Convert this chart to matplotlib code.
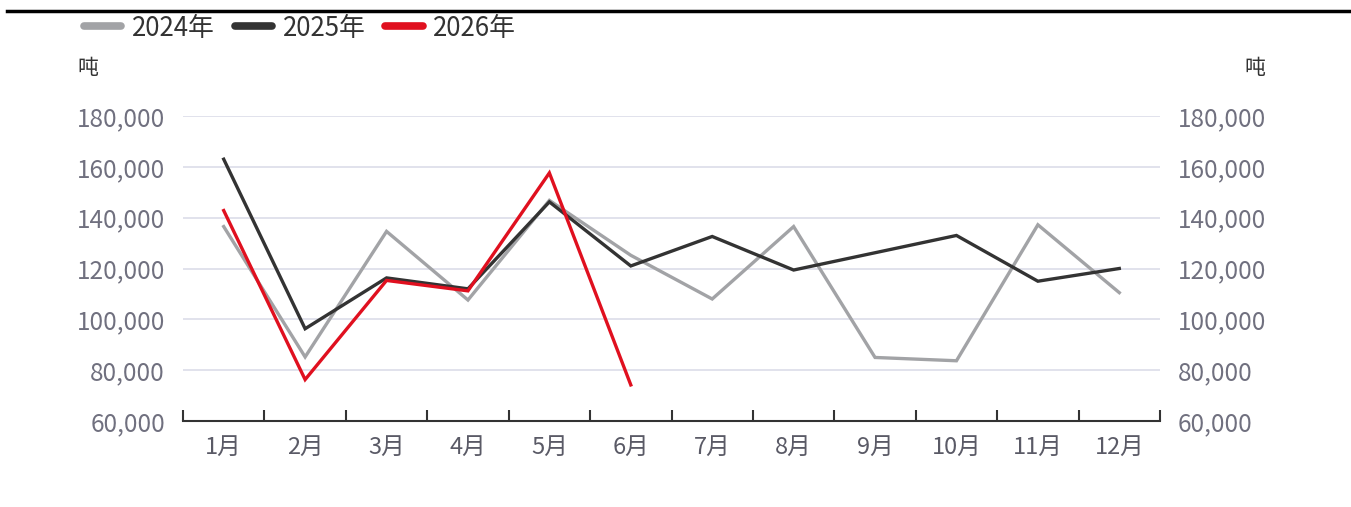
import numpy as np
import matplotlib.pyplot as plt
from matplotlib.lines import Line2D
from matplotlib.ticker import FuncFormatter

plt.rcParams['font.family'] = ['Noto Sans CJK SC', 'DejaVu Sans']

months = ['1月', '2月', '3月', '4月', '5月', '6月', '7月', '8月', '9月', '10月', '11月', '12月']
y2024 = [136500, 85200, 134600, 107600, 146800, 125200, 108000, 136500, 85000, 83700, 137200, 110500]
y2025 = [163000, 96300, 116300, 112000, 146200, 121000, 132600, 119400, 126200, 133000, 115000, 120000]
y2026 = [142800, 76300, 115300, 111200, 157600, 74200]

c2024 = '#a2a3a6'
c2025 = '#333333'
c2026 = '#e0101f'
tick_color = '#70707f'

fig = plt.figure(figsize=(13.51, 5.07), dpi=100)
ax = fig.add_axes([183/1351, 86/507, 977/1351, 305/507])

x = np.arange(len(months))
ax.plot(x, y2024, color=c2024, lw=2.4, label='2024年', solid_joinstyle='miter')
ax.plot(x, y2025, color=c2025, lw=2.4, label='2025年', solid_joinstyle='miter')
ax.plot(x[:len(y2026)], y2026, color=c2026, lw=2.4, label='2026年', solid_joinstyle='miter')

ax.set_xlim(-0.5, 11.5)
ax.set_ylim(60000, 180000)
ax.set_yticks(np.arange(60000, 180001, 20000))
fmt = FuncFormatter(lambda v, p: f'{int(v):,}')
ax.yaxis.set_major_formatter(fmt)
ax.grid(axis='y', color='#dcdde9', lw=1.2)
ax.set_axisbelow(True)

for s in ['top', 'left', 'right']:
    ax.spines[s].set_visible(False)
ax.spines['bottom'].set_color('#333333')
ax.spines['bottom'].set_linewidth(1.5)

ax.set_xticks(x)
ax.set_xticklabels(months)
ax.set_xticks(np.arange(-0.5, 12, 1), minor=True)
ax.tick_params(axis='x', which='major', length=0, pad=11, labelsize=17, labelcolor='#5a5a66')
ax.tick_params(axis='x', which='minor', length=8, width=1.5, direction='in', color='#333333')
ax.tick_params(axis='y', length=0, pad=13, labelsize=17.5, labelcolor=tick_color)

ax2 = ax.twinx()
ax2.set_ylim(ax.get_ylim())
ax2.set_yticks(ax.get_yticks())
ax2.yaxis.set_major_formatter(fmt)
ax2.tick_params(axis='y', length=0, pad=13, labelsize=17.5, labelcolor=tick_color)
for s in ['top', 'left', 'right', 'bottom']:
    ax2.spines[s].set_visible(False)

fig.text(88/1351, 1 - 68/507, '吨', fontsize=15, color='#333333', ha='center', va='center')
fig.text(1255/1351, 1 - 68/507, '吨', fontsize=15, color='#333333', ha='center', va='center')

# top rule
fig.add_artist(Line2D([7/1351, 1.0], [1 - 11/507, 1 - 11/507], color='black', lw=2.5))

handles = [Line2D([0], [0], color=c, lw=5.5, solid_capstyle='round') for c in (c2024, c2025, c2026)]
leg = fig.legend(handles, ['2024年', '2025年', '2026年'], loc='center left',
                 bbox_to_anchor=(84/1351, 1 - 28/507), ncol=3, frameon=False,
                 fontsize=18.6, handlelength=1.45, handletextpad=0.42, columnspacing=0.75,
                 borderpad=0, borderaxespad=0)
for t in leg.get_texts():
    t.set_color('#333333')

fig.savefig('out.png', dpi=100)
